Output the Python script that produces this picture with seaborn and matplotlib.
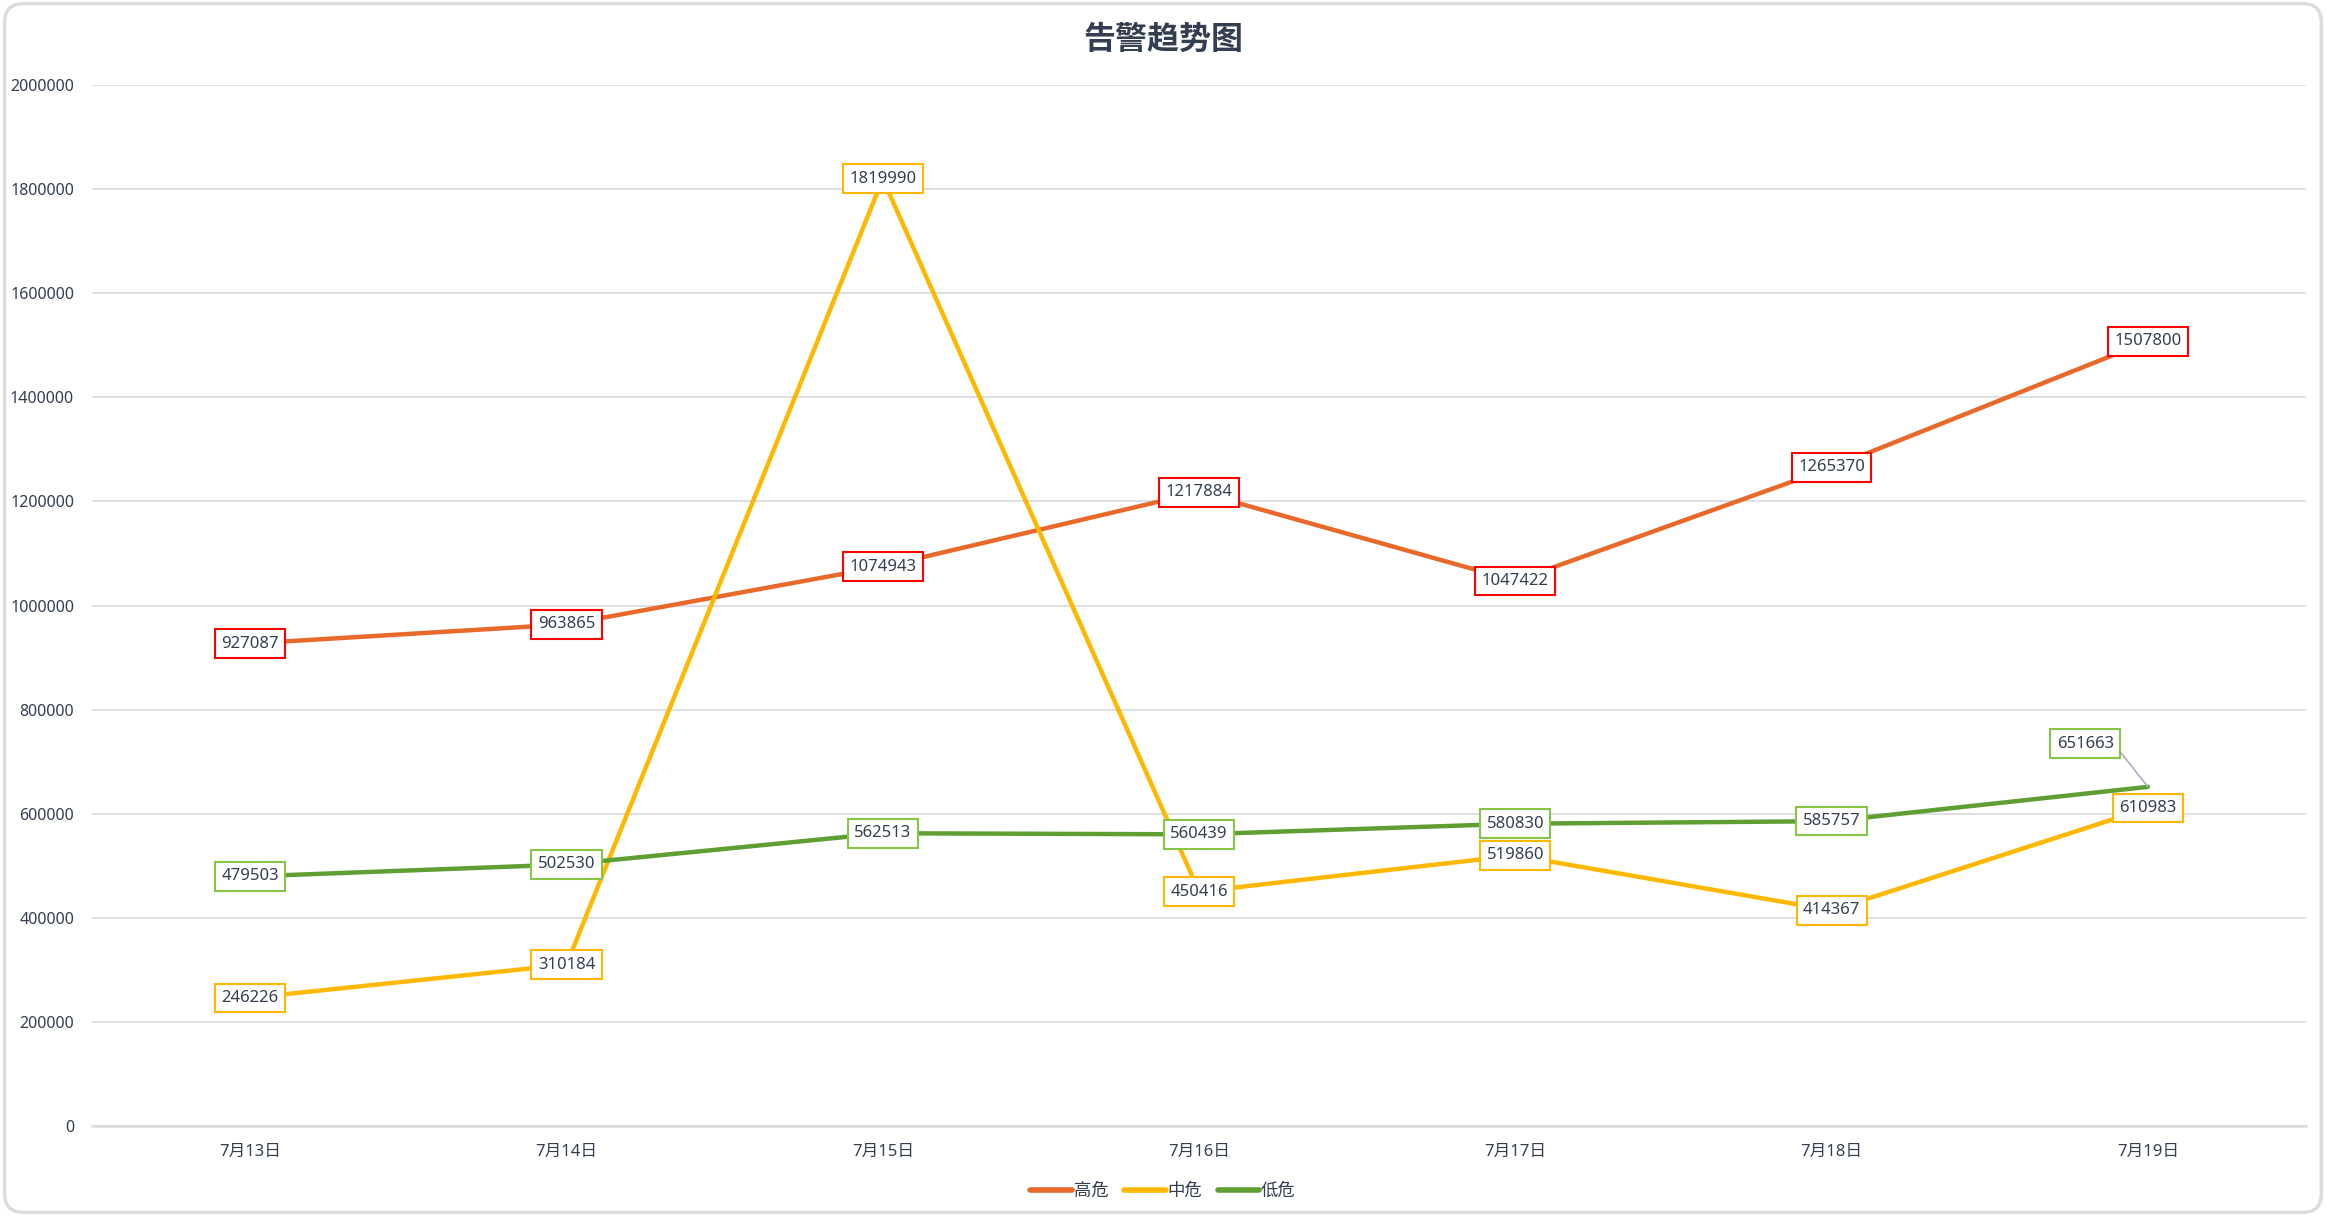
import matplotlib
matplotlib.use("Agg")
import matplotlib.pyplot as plt
import matplotlib.ticker as ticker
from matplotlib.patches import FancyBboxPatch
import pandas as pd
import seaborn as sns

# data
dates = ["7月13日", "7月14日", "7月15日", "7月16日", "7月17日", "7月18日", "7月19日"]
high = [927087, 963865, 1074943, 1217884, 1047422, 1265370, 1507800]
mid = [246226, 310184, 1819990, 450416, 519860, 414367, 610983]
low = [479503, 502530, 562513, 560439, 580830, 585757, 651663]
series_names = ["高危", "中危", "低危"]
y_ticks = [0, 200000, 400000, 600000, 800000, 1000000, 1200000, 1400000, 1600000, 1800000, 2000000]

line_colors = {"高危": "#E8692A", "中危": "#FFB800", "低危": "#5E9E32"}
box_colors = {"高危": "#FF0000", "中危": "#FFB800", "低危": "#86C545"}
text_color = "#333F50"
grid_color = "#D9DCE1"

df = pd.DataFrame({
    "date": dates * 3,
    "x": list(range(len(dates))) * 3,
    "value": high + mid + low,
    "level": [n for n in series_names for _ in dates],
})

sns.set_style("white")
# latin digits from Noto Sans, CJK glyphs fall through to the CJK family
plt.rcParams["font.family"] = ["Noto Sans", "Noto Sans CJK SC", "DejaVu Sans"]

fig = plt.figure(figsize=(23.26, 12.16), dpi=100, facecolor="w")
ax = fig.add_axes([0.0396, 0.074, 0.9518, 0.856])

sns.lineplot(data=df, x="x", y="value", hue="level", palette=line_colors,
             hue_order=series_names, linewidth=3.2, ax=ax, legend=False,
             solid_capstyle="round", zorder=3)

ax.set_xlim(-0.5, len(dates) - 0.5)
ax.set_ylim(0, 2000000)
ax.set_yticks(y_ticks)
ax.yaxis.set_major_formatter(ticker.FuncFormatter(lambda v, _: f"{int(v)}"))
ax.set_xticks(range(len(dates)))
ax.set_xticklabels(dates)
ax.xaxis.set_minor_locator(ticker.FixedLocator([i - 0.5 for i in range(len(dates) + 1)]))
ax.tick_params(axis="y", length=0, pad=13, labelsize=11.5, labelcolor=text_color)
ax.tick_params(axis="x", which="major", length=0, pad=13, labelsize=12, labelcolor=text_color)
ax.tick_params(axis="x", which="minor", length=5, width=1.2, color=grid_color, direction="out")
ax.set_xlabel("")
ax.set_ylabel("")

ax.grid(True, axis="y", color=grid_color, linewidth=1.3)
ax.set_axisbelow(True)
for side in ["top", "right", "left"]:
    ax.spines[side].set_visible(False)
ax.spines["bottom"].set_color(grid_color)
ax.spines["bottom"].set_linewidth(1.8)

# value labels in boxes
for name, vals in zip(series_names, [high, mid, low]):
    for i, v in enumerate(vals):
        box = dict(boxstyle="square,pad=0.38", fc="white", ec=box_colors[name], lw=1.5)
        if name == "低危" and i == len(vals) - 1:
            ax.annotate(str(v), xy=(i, v), xytext=(-45, 31), textcoords="offset points",
                        ha="center", va="center", fontsize=12, color=text_color,
                        bbox=box, zorder=5,
                        arrowprops=dict(arrowstyle="-", color="#A5B1C2", lw=1.2,
                                        relpos=(1.0, 0.5), shrinkA=0, shrinkB=0))
        else:
            ax.text(i, v, str(v), ha="center", va="center", fontsize=12,
                    color=text_color, bbox=box, zorder=5)

fig.text(0.5, 0.967, "告警趋势图", ha="center", va="center", fontsize=23,
         fontweight="bold", color=text_color)

handles = [plt.Line2D([], [], color=line_colors[n], lw=4, solid_capstyle="round") for n in series_names]
fig.legend(handles, series_names, loc="center", bbox_to_anchor=(0.5, 0.0205), ncol=3,
           frameon=False, fontsize=12.5, labelcolor=text_color, handlelength=2.4,
           handletextpad=0.1, columnspacing=0.9)

frame = FancyBboxPatch((0.002, 0.003), 0.996, 0.994, boxstyle="round,pad=0,rounding_size=0.008",
                       transform=fig.transFigure, fc="none", ec="#DCDCDC", lw=2.5,
                       mutation_aspect=2326 / 1216)
fig.patches.append(frame)

fig.savefig("out.png", dpi=100, facecolor="w")
